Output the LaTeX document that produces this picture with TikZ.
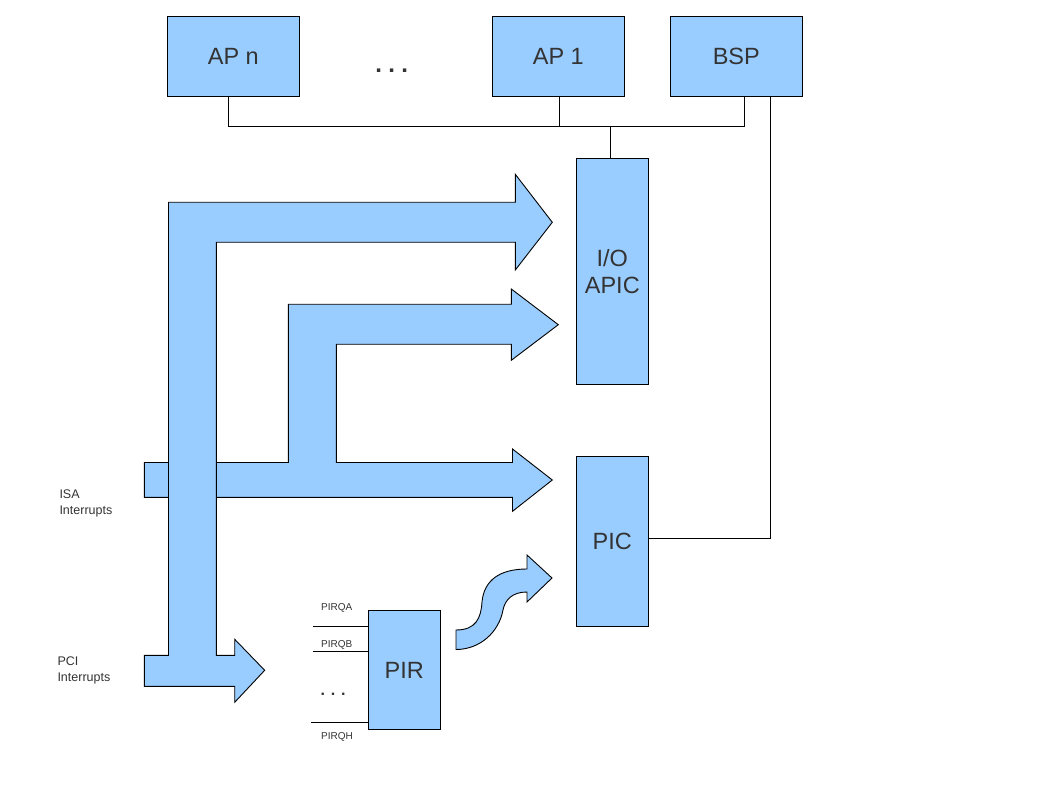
\documentclass[tikz,border=0pt]{standalone}
\usepackage{fontspec}
\setmainfont{Liberation Sans}
\definecolor{boxblue}{HTML}{99CCFF}
\definecolor{txt}{HTML}{333333}
\begin{document}
\begin{tikzpicture}[x=1pt,y=-1pt,
  box/.style={draw=black, fill=boxblue, line width=1pt, inner sep=0pt, outer sep=0pt,
    text=txt, font=\fontsize{23.5}{27}\selectfont, align=center},
  wide/.style={minimum width=132pt, minimum height=80pt},
  tall/.style={minimum width=72pt},
  bigarrow/.style={draw=black, fill=boxblue, line width=0.9pt, line join=miter},
  wire/.style={draw=black, line width=1pt},
  lbl/.style={text=txt, font=\fontsize{12.5}{15.5}\selectfont, align=left, inner sep=0pt, anchor=base west},
  pirq/.style={text=txt, font=\fontsize{10}{12}\selectfont, inner sep=0pt, anchor=base west},
  dots/.style={text=txt, inner sep=0pt, anchor=base}
]
\useasboundingbox (0,0) rectangle (1058,794);

% ISA interrupt arrows
\path[bigarrow] (144.3,462.5) -- (288.3,462.5) -- (288.3,304.3) -- (511.3,304.3)
  -- (511.3,289) -- (558.3,324.7) -- (511.3,360.3) -- (511.3,344.3) -- (336.3,344.3)
  -- (336.3,462.5) -- (512.5,462.5) -- (512.5,449) -- (552.3,480) -- (512.5,511.3)
  -- (512.5,497.3) -- (144.3,497.3) -- cycle;

% PCI interrupt arrows
\path[bigarrow] (144.3,655.3) -- (168.5,655.3) -- (168.5,202.3) -- (515.3,202.3)
  -- (515.3,174.3) -- (552.3,222.3) -- (515.3,270) -- (515.3,242.3) -- (216.3,242.3)
  -- (216.3,655.3) -- (234.7,655.3) -- (234.7,639.3) -- (264.7,670.3) -- (234.7,702.3)
  -- (234.7,686.3) -- (144.3,686.3) -- cycle;

% curved arrow PIR -> PIC
\path[bigarrow] (456,630) .. controls (476,630) and (481,618) .. (482,602)
  .. controls (484,580) and (500,569) .. (527,569) -- (527,555) -- (552,578)
  -- (527,602) -- (527,592) .. controls (512,592) and (505,600) .. (503,610)
  .. controls (499,632) and (480,649.5) .. (456,649.5) -- cycle;

% boxes
\node[box, wide] (apn) at (233.3,56.2) {AP n};
\node[box, wide] (ap1) at (558.3,56.2) {AP 1};
\node[box, wide] (bsp) at (736.3,56.2) {BSP};
\node[box, tall, minimum height=225.7pt] (ioapic) at (612.3,271.2) {I/O\\APIC};
\node[box, tall, minimum height=170pt] (pic) at (612.3,541) {PIC};
\node[box, tall, minimum height=119.3pt] (pir) at (404.3,670.3) {PIR};

% dots between APs
\node[dots, font=\fontsize{24}{27}\selectfont\bfseries] (apdots) at (391.7,72.7) {.\hspace{6.3pt}.\hspace{6.3pt}.};

% bus
\coordinate (busL) at (228.7,127);
\coordinate (bus1) at (559.3,127);
\coordinate (busIO) at (610.3,127);
\coordinate (busR) at (744.3,127);
\draw[wire] (apn.south -| busL) -- (busL) -- (busR) -- (bsp.south -| busR);
\draw[wire] (ap1.south -| bus1) -- (bus1);
\draw[wire] (busIO) -- (ioapic.north -| busIO);

% BSP to PIC
\coordinate (picR) at (770.7,538.3);
\draw[wire] (bsp.south -| picR) -- (picR) -- (pic.east |- picR);

% PIRQ lines
\coordinate (qa) at (312.5,626.3);
\coordinate (qb) at (312.5,651.3);
\coordinate (qh) at (311,722.3);
\draw[wire] (qa) -- (pir.west |- qa);
\draw[wire] (qb) -- (pir.west |- qb);
\draw[wire] (qh) -- (pir.west |- qh);
\node[pirq] (la) at (321,610) {PIRQA};
\node[pirq] (lb) at (321,647.3) {PIRQB};
\node[pirq] (lh) at (321,739.3) {PIRQH};
\node[dots, font=\fontsize{16}{18}\selectfont\bfseries] (qdots) at (333,695.8) {.\hspace{5.8pt}.\hspace{5.8pt}.};

% side labels
\node[lbl] (isa) at (59.3,514.3) {ISA\\Interrupts};
\node[lbl] (pci) at (57.3,681) {PCI\\Interrupts};
\end{tikzpicture}
\end{document}
